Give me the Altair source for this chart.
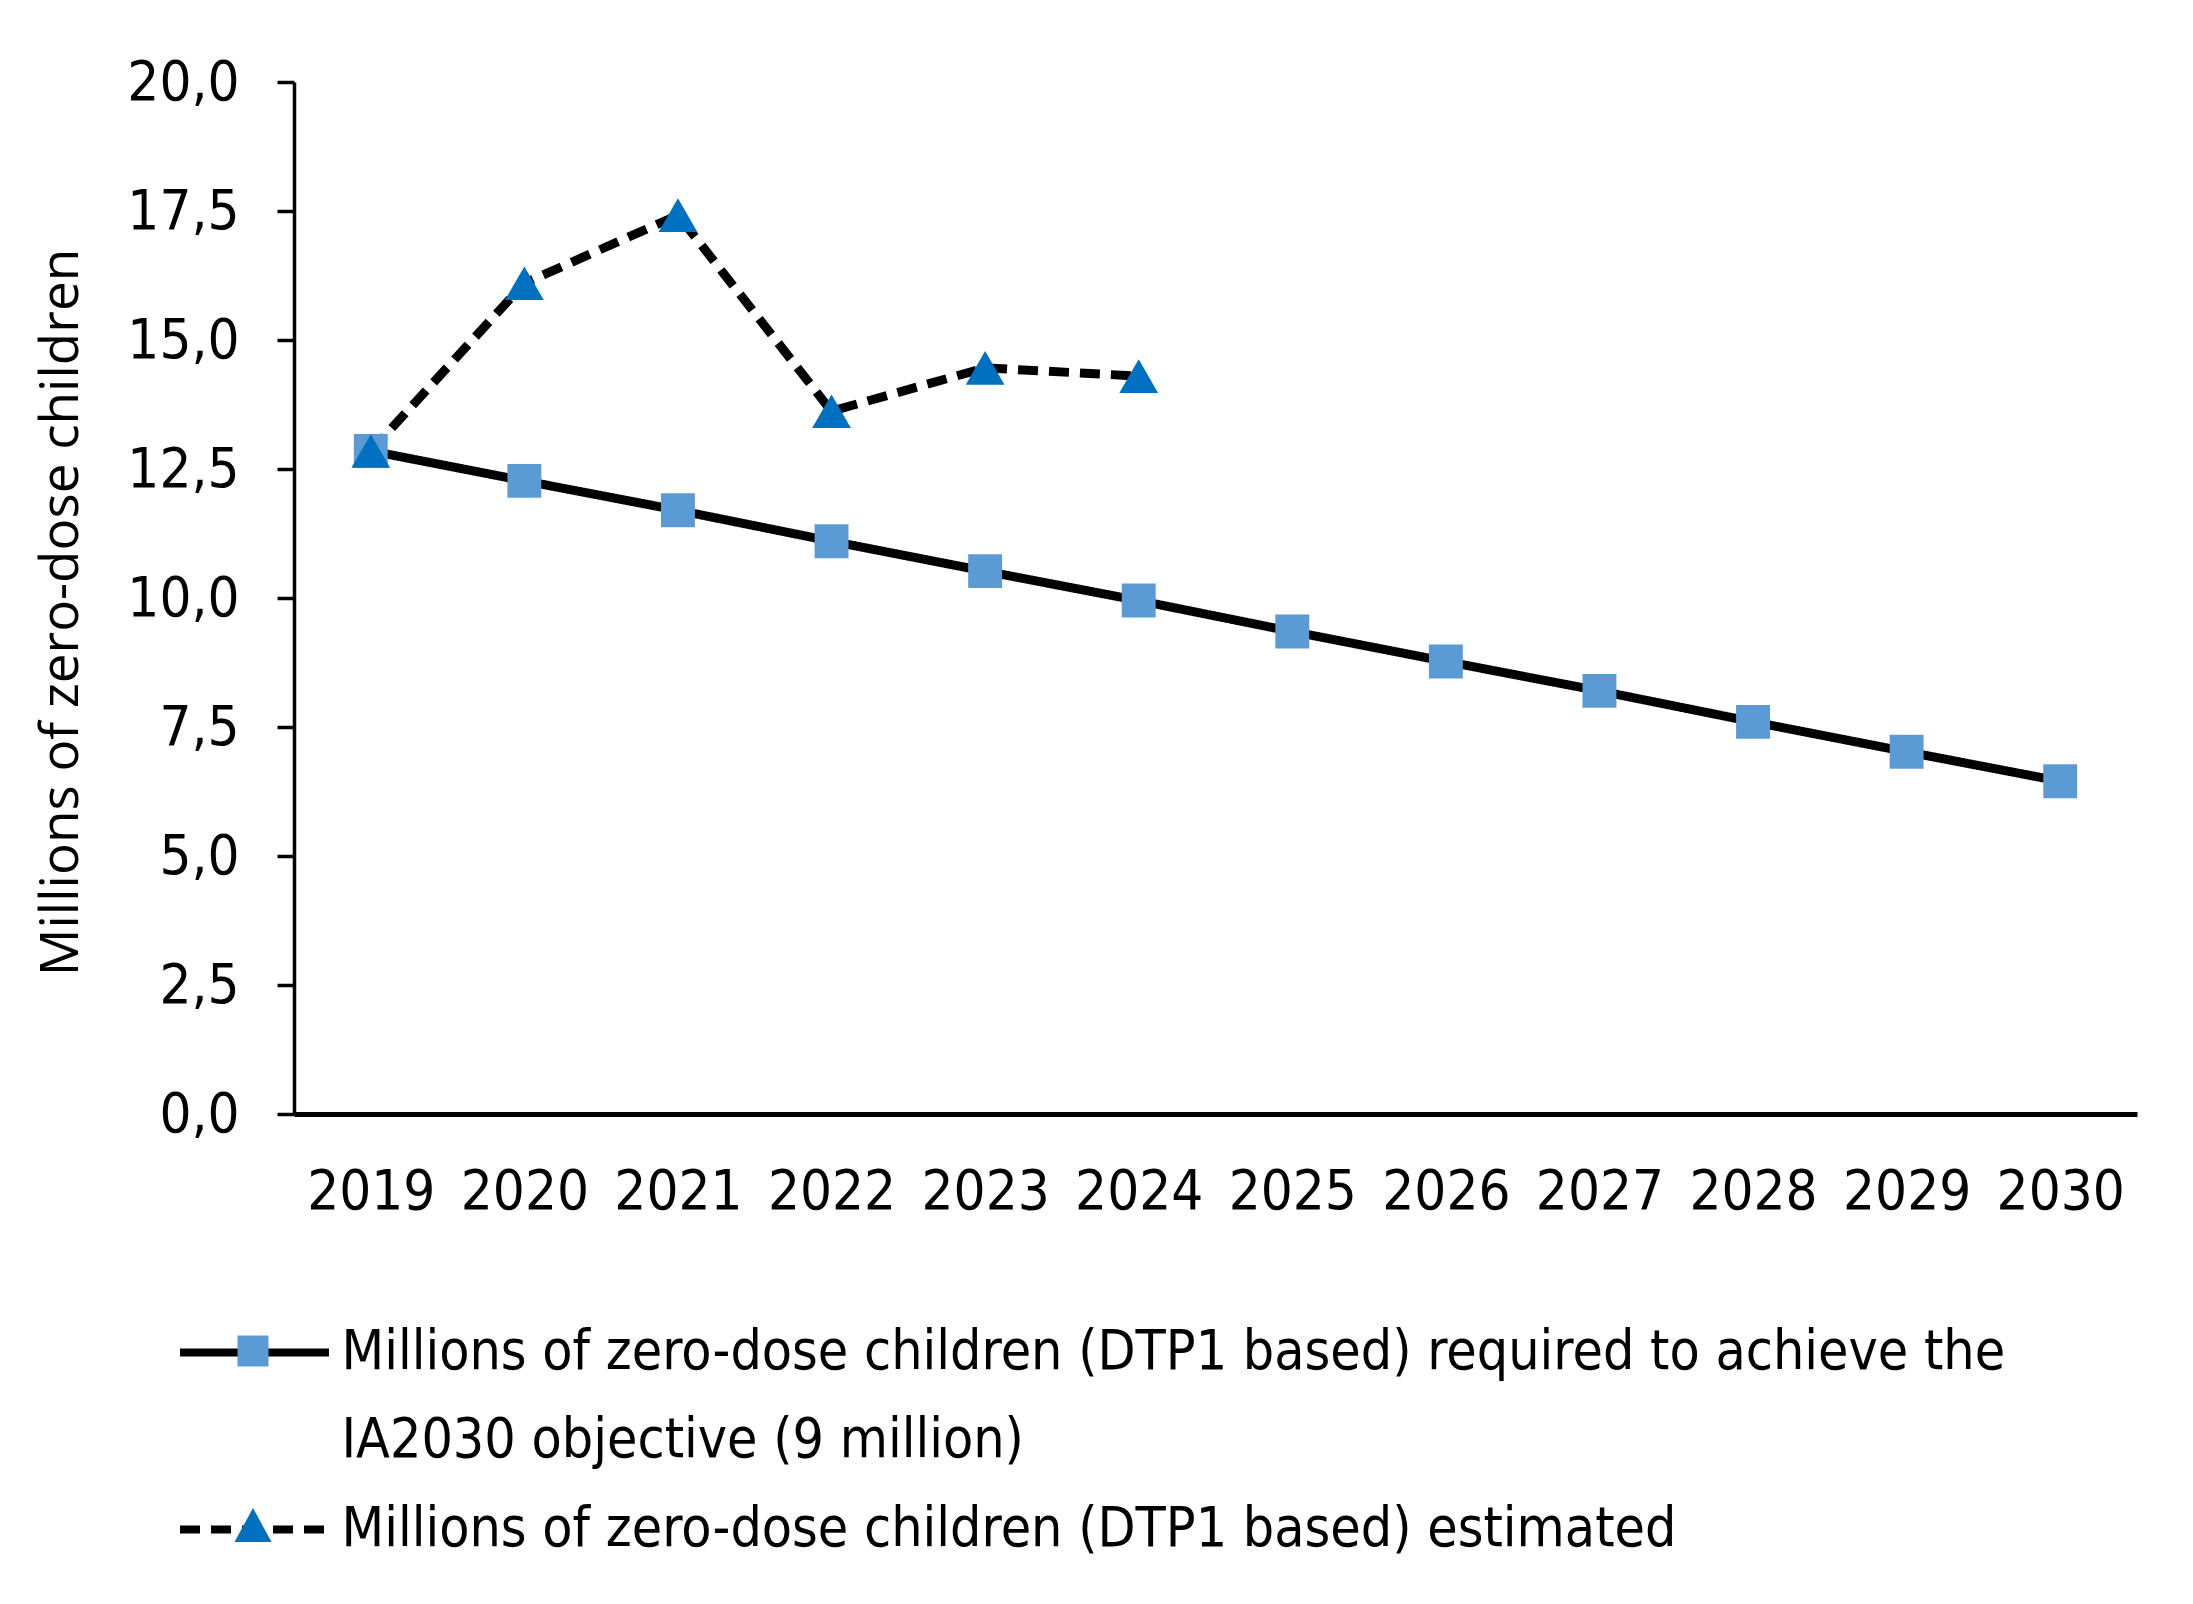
import altair as alt
import pandas as pd

years = [str(y) for y in range(2019, 2031)]
required = [12.85, 12.27, 11.70, 11.10, 10.52, 9.95, 9.35, 8.77, 8.20, 7.60, 7.02, 6.45]
est_years = ["2019", "2020", "2021", "2022", "2023", "2024"]
estimated = [12.85, 16.10, 17.42, 13.62, 14.46, 14.30]

series_keys = ["req", "req2", "est"]
label_req = "Millions of zero-dose children (DTP1 based) required to achieve the"
label_req2 = "IA2030 objective (9 million)"
label_est = "Millions of zero-dose children (DTP1 based) estimated"

df_req = pd.DataFrame({"year": years, "value": required, "series": "req"})
df_est = pd.DataFrame({"year": est_years, "value": estimated, "series": "est"})
df = pd.concat([df_req, df_est], ignore_index=True)

label_expr = ("datum.value == 'req' ? '" + label_req + "' : datum.value == 'req2' ? '"
              + label_req2 + "' : '" + label_est + "'")

FONT = "Liberation Sans Narrow, DejaVu Sans Condensed, Roboto Condensed, sans-serif"
W, H = 1843, 1032
LEG_X, LEG_Y = -68.5, 1214.5
S = 50           # legend symbol nominal size (px); one path unit = S/2 px
U = S / 2.0
CY = 27 / U      # vertical offset of the legend symbols

line_path = "M%.3f,%.3fH%.3f" % (-74.5 / U, CY, 74.5 / U)
sq_path = "M%.3f,%.3fH%.3fV%.3fH%.3fZ" % (-15.5 / U, CY - 15.5 / U, 15.5 / U, CY + 15.5 / U, -15.5 / U)
tri_path = "M0,%.3fL%.3f,%.3fH%.3fZ" % (CY - 18 / U, 18.5 / U, CY + 16 / U, -18.5 / U)

x_enc = alt.X("year:O", scale=alt.Scale(type="point", padding=0.5, domain=years),
              axis=alt.Axis(title=None, labelAngle=0, ticks=False, labelPadding=50,
                            labelFont=FONT, labelFontSize=56, labelColor="black",
                            domainColor="black", domainWidth=5))
y_enc = alt.Y("value:Q", scale=alt.Scale(domain=[0, 20], nice=False),
              axis=alt.Axis(title="Millions of zero-dose children", values=[0, 2.5, 5, 7.5, 10, 12.5, 15, 17.5, 20],
                            labelExpr="replace(format(datum.value, '.1f'), '.', ',')",
                            grid=False, tickSize=17, tickWidth=3.5, tickColor="black",
                            domainColor="black", domainWidth=3.5, labelPadding=38,
                            labelFont=FONT, labelFontSize=56, labelColor="black",
                            titleFont="Open Sans", titleFontSize=53, titleFontWeight="normal",
                            titleColor="black", titleAngle=-90, titleX=-233, titleY=530,
                            titleAlign="center", titleBaseline="middle"))

legend_common = dict(title=None, orient="none", legendY=LEG_Y, legendX=LEG_X,
                     symbolSize=S * S, labelExpr=label_expr, labelFont=FONT,
                     labelFontSize=55, labelColor="black", labelLimit=2200, labelOffset=58,
                     rowPadding=5.5, labelBaseline="top")

lines = alt.Chart(df).mark_line(color="black", strokeWidth=9).encode(
    x=x_enc, y=y_enc,
    detail="series:N",
    strokeDash=alt.StrokeDash("series:N",
        scale=alt.Scale(domain=series_keys, range=[[1, 0], [0, 1000], [20, 11]]),
        legend=alt.Legend(symbolType=line_path, symbolStrokeWidth=8, symbolStrokeColor="black",
                          symbolFillColor="transparent", **legend_common)),
)

squares = alt.Chart(df_req).mark_point(filled=True, opacity=1, shape="square", size=1150,
                                       color="#5B9BD5").encode(x=x_enc, y=y_enc)
triangles = alt.Chart(df_est).mark_point(filled=True, opacity=1, shape="triangle-up", size=1500,
                                         color="#0070C0").encode(x=x_enc, y=y_enc)

leg_marker = dict(symbolStrokeWidth=0, labelOpacity=0, **legend_common)
legend_markers = alt.Chart(df).transform_filter("false").mark_point(filled=True, opacity=1).encode(
    x=x_enc, y=y_enc,
    shape=alt.Shape("series:N", scale=alt.Scale(domain=series_keys, range=[sq_path, "M0,0", tri_path]),
                    legend=alt.Legend(**leg_marker)),
    color=alt.Color("series:N", scale=alt.Scale(domain=series_keys, range=["#5B9BD5", "#ffffff", "#0070C0"]),
                    legend=alt.Legend(**leg_marker)),
)

chart = alt.layer(lines, squares, triangles, legend_markers).resolve_scale(
    color="independent", shape="independent", strokeDash="independent"
).properties(
    width=W, height=H,
    autosize=alt.AutoSizeParams(type="none"),
    padding={"left": 286, "top": 74, "right": 40, "bottom": 480},
    background="white",
).configure_view(stroke=None)

chart.save("out.html", embed_options={"renderer": "svg", "actions": False})
